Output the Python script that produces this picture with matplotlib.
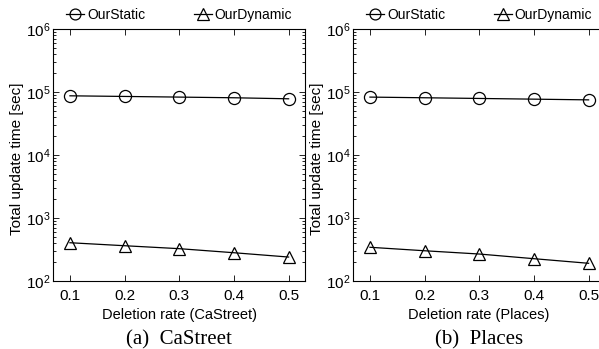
import matplotlib
matplotlib.use("Agg")
import matplotlib.pyplot as plt

plt.rcParams["font.family"] = ["Liberation Sans", "DejaVu Sans"]
plt.rcParams["mathtext.fontset"] = "custom"
plt.rcParams["mathtext.rm"] = "Liberation Sans"
plt.rcParams["mathtext.it"] = "Liberation Sans"
plt.rcParams["mathtext.default"] = "regular"

rates = [0.1, 0.2, 0.3, 0.4, 0.5]
static_castreet = [8.7e4, 8.5e4, 8.3e4, 8.1e4, 7.8e4]
dynamic_castreet = [405, 363, 326, 281, 240]
static_places = [8.3e4, 8.1e4, 7.9e4, 7.7e4, 7.5e4]
dynamic_places = [343, 302, 268, 226, 191]

panels = [
    ("CaStreet", "(a)  CaStreet", static_castreet, dynamic_castreet),
    ("Places", "(b)  Places", static_places, dynamic_places),
]

fig = plt.figure(figsize=(5.99, 3.49), dpi=100)
lefts = [53 / 599, 353 / 599]
w = 252 / 599
bottom = 1 - 281 / 349
h = 252 / 349

for left, (name, caption, st, dy) in zip(lefts, panels):
    ax = fig.add_axes([left, bottom, w, h])
    ax.plot(rates, st, "-o", color="black", lw=0.9, ms=8.7, mfc="none",
            mew=0.9, label="OurStatic", clip_on=False)
    ax.plot(rates, dy, "-^", color="black", lw=0.9, ms=9, mfc="none",
            mew=0.9, label="OurDynamic", clip_on=False)
    ax.set_yscale("log")
    ax.set_ylim(1e2, 1e6)
    ax.set_xlim(0.069, 0.53)
    ax.set_xticks(rates)
    ax.set_xticklabels([f"{r:.1f}" for r in rates])
    ax.tick_params(which="both", direction="in", top=True, right=True,
                   labelsize=11, width=0.6)
    ax.tick_params(which="major", length=4)
    ax.tick_params(axis="x", which="major", pad=6)
    ax.tick_params(axis="y", which="major", pad=2)
    ax.tick_params(which="minor", length=2)
    for s in ax.spines.values():
        s.set_linewidth(0.8)
    ax.set_xlabel(f"Deletion rate ({name})", fontsize=10.5, labelpad=3)
    ax.set_ylabel("Total update time [sec]", fontsize=11)
    ax.yaxis.set_label_coords(-0.115, 0.485)
    ax.legend(loc="lower center", bbox_to_anchor=(0.5, 0.995), ncol=2,
              frameon=False, fontsize=10, handlelength=1.3, handletextpad=0.2,
              columnspacing=3.5, borderaxespad=0.2, markerscale=0.9)
    ax.text(0.5, -0.195, caption, transform=ax.transAxes, ha="center", va="top",
            fontsize=15, family=["Liberation Serif", "DejaVu Serif"])

fig.savefig("out.png", dpi=100)
